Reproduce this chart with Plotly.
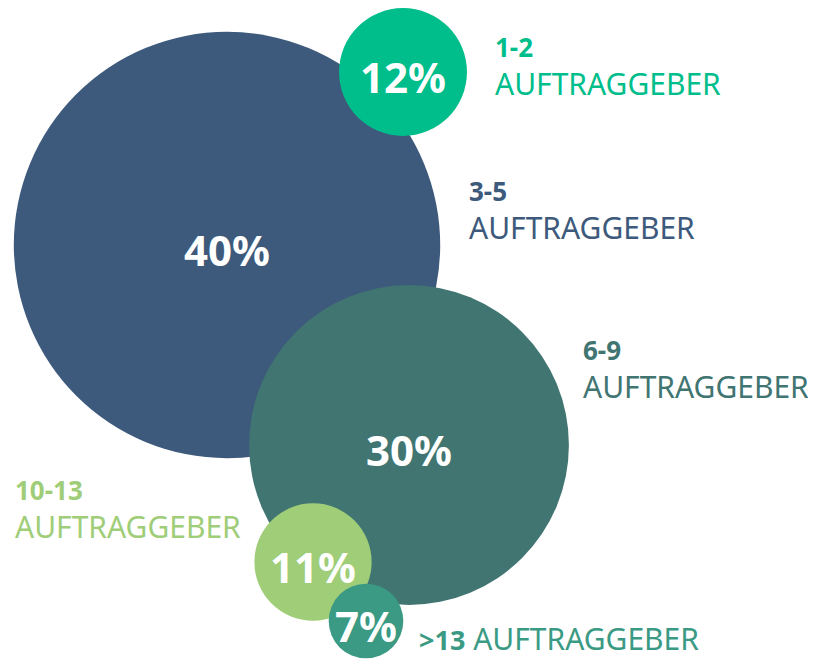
import plotly.graph_objects as go

# Data
shares = [40, 12, 30, 11, 7]
share_labels = ["40%", "12%", "30%", "11%", "7%"]
groups = ["3-5", "1-2", "6-9", "10-13", ">13"]
center_x = [227, 403, 409, 313, 366]
center_y = [245, 72, 445, 562, 621]
colors = ["#3d5a7c", "#00be8b", "#417572", "#a0cd78", "#3b9a84"]

# label anchor positions (left edge, vertical middle of first line)
label_x = [468, 494, 582, 14, 418]
label_y = [191, 47, 350, 490, 638]
word = "AUFTRAGGEBER"

FONT = "Noto Sans"
OFF = 8  # browser body margin

fig = go.Figure()
fig.add_trace(go.Scatter(
    x=center_x, y=center_y,
    mode="markers",
    marker=dict(size=shares, sizemode="diameter", sizeref=1/10.66,
                color=colors, opacity=1, line=dict(width=0)),
    hoverinfo="skip", showlegend=False, cliponaxis=False,
))

annotations = []
for s, cx, cy in zip(share_labels, center_x, center_y):
    annotations.append(dict(
        x=cx, y=cy, xref="x", yref="y", xanchor="center", yanchor="middle",
        text=f"<b>{s}</b>", showarrow=False, yshift=-4,
        font=dict(family=FONT, size=42, color="white")))

for g, lx, ly, c in zip(groups, label_x, label_y, colors):
    if g == ">13":
        annotations.append(dict(
            x=lx, y=ly, xref="x", yref="y", xanchor="left", yanchor="middle",
            text=f"<b><span style='font-size:27px'>{g}</span></b> {word}",
            showarrow=False, borderpad=0,
            font=dict(family=FONT, size=30, color=c)))
    else:
        annotations.append(dict(
            x=lx, y=ly, xref="x", yref="y", xanchor="left", yanchor="middle",
            text=f"<b>{g}</b>", showarrow=False, borderpad=0,
            font=dict(family=FONT, size=26, color=c)))
        annotations.append(dict(
            x=lx, y=ly + 36, xref="x", yref="y", xanchor="left", yanchor="middle",
            text=word, showarrow=False, borderpad=0,
            font=dict(family=FONT, size=30, color=c)))

fig.update_layout(
    width=816 - OFF, height=660 - OFF,
    margin=dict(l=0, r=0, t=0, b=0),
    paper_bgcolor="white", plot_bgcolor="white",
    xaxis=dict(range=[OFF, 816], visible=False, fixedrange=True),
    yaxis=dict(range=[660, OFF], visible=False, fixedrange=True),
    annotations=annotations,
)

fig.write_html("out.html")
